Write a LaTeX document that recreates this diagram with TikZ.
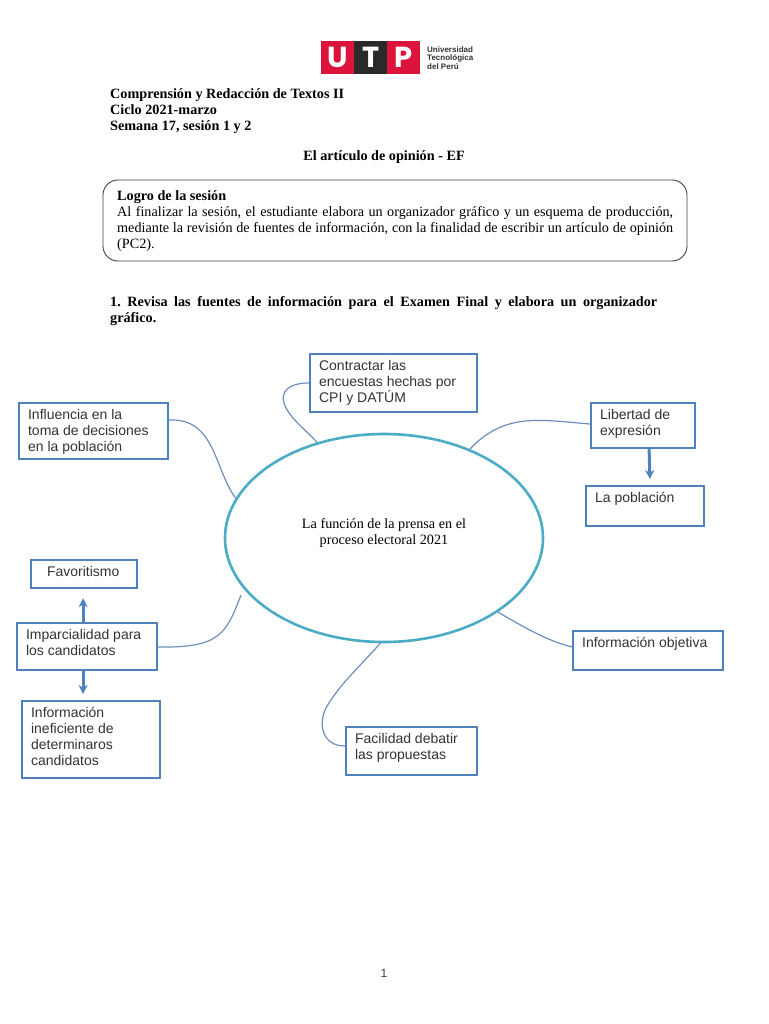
\documentclass[tikz,border=0pt]{standalone}
\usepackage{fontspec}
\setmainfont{Liberation Serif}
\setsansfont{Liberation Sans}
\newfontfamily\logofont{Poppins}
\usetikzlibrary{arrows.meta,shapes.geometric}
\definecolor{cajaazul}{HTML}{4F81BD}
\definecolor{lineaazul}{HTML}{6E8FBE}
\definecolor{turquesa}{HTML}{4BACC6}
\definecolor{rojoutp}{HTML}{DC143C}
\definecolor{negroutp}{HTML}{2A2A2A}
\tikzset{
  caja/.style={draw=cajaazul, line width=2.2pt, inner xsep=9pt, inner ysep=6pt, anchor=north west, font=\sffamily\fontsize{14}{16}\selectfont, text=black!80},
  enlace/.style={draw=lineaazul, line width=1.2pt},
  flecha/.style={draw=cajaazul, line width=3pt, -{Stealth[length=9pt,width=9pt]}},
  letra/.style={fill=#1, text=white, inner sep=0pt, minimum width=33pt, minimum height=33pt, anchor=north west, font=\logofont\bfseries\fontsize{29}{29}\selectfont},
  titulo/.style={anchor=north west, inner sep=0pt, font=\bfseries\fontsize{14.2}{16}\selectfont, align=left}
}
\begin{document}
\frenchspacing
\begin{tikzpicture}[x=1pt, y=-1pt]
  \useasboundingbox[fill=white] (0,0) rectangle (768,1024);

  % Logo
  \node[letra=rojoutp] (logoU) at (321,41) {U};
  \node[letra=negroutp] (logoT) at (354,41) {T};
  \node[letra=rojoutp] (logoP) at (387,41) {P};
  \node[anchor=west, inner sep=0pt, align=left, text=black!80, font=\sffamily\bfseries\fontsize{8}{8.6}\selectfont] (logotexto) at (427,58) {Universidad\\Tecnológica\\del Perú};

  % Encabezado
  \node[titulo] (curso) at (110,88.5) {Comprensión y Redacción de Textos II\\Ciclo 2021-marzo\\Semana 17, sesión 1 y 2};
  \node[font=\bfseries\fontsize{14.2}{16}\selectfont, inner sep=0pt] (tema) at (384,157) {El artículo de opinión - EF};

  % Logro de la sesion
  \draw[rounded corners=15pt, black!75, line width=0.9pt] (103,180) rectangle (687,261);
  \node[anchor=north west, inner sep=0pt, text width=556pt, align=justify, font=\fontsize{14.2}{16}\selectfont] (logro) at (117,190.5)
    {\textbf{Logro de la sesión}\\Al finalizar la sesión, el estudiante elabora un organizador gráfico y un esquema de producción, mediante la revisión de fuentes de información, con la finalidad de escribir un artículo de opinión (PC2).};

  % Consigna
  \node[anchor=north west, inner sep=0pt, text width=547pt, align=justify, font=\bfseries\fontsize{14.2}{16}\selectfont] (consigna) at (110,296.5)
    {1. Revisa las fuentes de información para el Examen Final y elabora un organizador\linebreak gráfico.};

  % Elipse central
  \node[draw=turquesa, line width=2.6pt, shape=ellipse, minimum width=318pt, minimum height=208pt, inner sep=0pt] (prensa) at (384,538) {};
  \node[inner sep=0pt, align=center, font=\fontsize{14.2}{16}\selectfont] (prensatexto) at (384,533) {La función de la prensa en el\\proceso electoral 2021};

  % Cajas: nombre / x / y / ancho / alto / texto
  \def\cajas{
    contractar/309/353/167/58/{Contractar las\\encuestas hechas por\\CPI y DATÚM},
    influencia/18/402/149/56/{Influencia en la\\toma de decisiones\\en la población},
    libertad/590/402/104/45/{Libertad de\\expresión},
    poblacion/585/485/118/40/{La población},
    favoritismo/30/559/106/28/{\hspace*{7pt}Favoritismo},
    imparcialidad/16/622/140/47/{Imparcialidad para\\los candidatos},
    ineficiente/21/700/138/77/{Información\\ineficiente de\\determinaros\\candidatos},
    objetiva/572/630/150/39/{Información objetiva},
    facilidad/345/726/131/48/{Facilidad debatir\\las propuestas}
  }
  \foreach \n/\x/\y/\w/\h/\t in \cajas {
    \pgfmathsetmacro{\anchotexto}{\w-18}
    \pgfmathsetmacro{\altotexto}{\h-12}
    \node[caja] (\n) at (\x,\y) {\parbox[t][\altotexto pt][t]{\anchotexto pt}{\raggedright\t}};
  }

  % Enlaces con la elipse
  \coordinate (finparcial) at (241,595);
  \draw[enlace] (contractar.west |- 0,383) .. controls (288,383) and (278,392) .. (286,408) .. controls (293,421) and (306,430) .. (prensa.125);
  \draw[enlace] (influencia.east |- 0,420) .. controls (215,418) and (214,468) .. (prensa.165);
  \draw[enlace] (libertad.west |- 0,424) .. controls (540,420) and (505,412) .. (prensa.46);
  \draw[enlace] (objetiva.west |- 0,647) .. controls (548,641) and (525,628) .. (prensa.-33.3);
  \draw[enlace] (facilidad.west |- 0,746) .. controls (322,746) and (318,724) .. (326,708) .. controls (338,686) and (362,664) .. (prensa.-92);
  \draw[enlace] (imparcialidad.east |- 0,647) .. controls (220,648) and (226,634) .. (finparcial);

  % Flechas entre cajas
  \draw[flecha, shorten >=9pt] ([xshift=-4pt]imparcialidad.north) -- ([xshift=-1pt]favoritismo.south);
  \draw[flecha, shorten >=6pt] ([xshift=-4pt]imparcialidad.south) -- ([xshift=-8pt]ineficiente.north);
  \draw[flecha, shorten >=6pt] ([xshift=6pt]libertad.south) -- ([xshift=5pt]poblacion.north);

  % Numero de pagina
  \node[font=\sffamily\fontsize{12}{14}\selectfont, text=black!75, inner sep=0pt] (pagina) at (384,973) {1};
\end{tikzpicture}
\end{document}
